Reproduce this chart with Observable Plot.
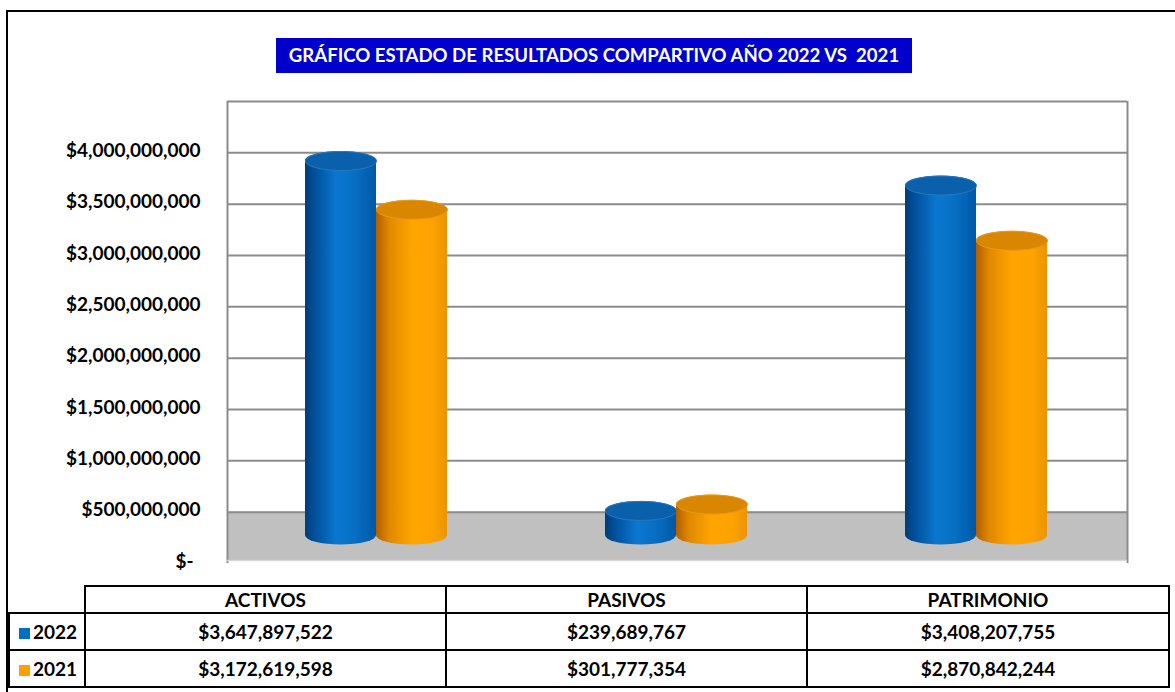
<!DOCTYPE html>
<html>
<head>
<meta charset="utf-8">
<script src="https://cdn.jsdelivr.net/npm/d3@7"></script>
<script src="https://cdn.jsdelivr.net/npm/@observablehq/plot@0.6"></script>
<style>
  html, body { margin: 0; padding: 0; background: #fff; }
  #wrap { position: relative; width: 1175px; height: 692px; overflow: hidden; font-family: Lato, "Liberation Sans", sans-serif; }
  #frame { position: absolute; left: 6px; top: 10px; width: 1180px; height: 700px; border: 2px solid #000; box-sizing: border-box; }
  #chart { position: absolute; left: 0; top: 0; }
  #title { position: absolute; left: 276px; top: 38px; width: 636px; height: 35px; background: #0000cc; color: #fff;
           font-weight: bold; font-size: 18.6px; line-height: 35px; text-align: center; white-space: pre; }
  #tbl { position: absolute; left: 8px; top: 585px; border-collapse: collapse; font-weight: bold; font-size: 19px; color: #000; }
  #tbl td { border: 2px solid #000; text-align: center; padding: 0; }
  #tbl td.empty { border-top: none; border-left: none; }
  #tbl td.leg { text-align: left; padding-left: 9px; }
  .sw { display: inline-block; width: 11px; height: 11px; margin-right: 3px; vertical-align: 0px; }
</style>
</head>
<body>
<div id="wrap">
  <div id="frame"></div>
  <div id="chart"></div>
  <div id="title"></div>
  <table id="tbl"></table>
</div>
<script>
const titleText = "GRÁFICO ESTADO DE RESULTADOS COMPARTIVO AÑO 2022 VS  2021";
const categories = ["ACTIVOS", "PASIVOS", "PATRIMONIO"];
const years = ["2022", "2021"];
const values2022 = [3647897522, 239689767, 3408207755];
const values2021 = [3172619598, 301777354, 2870842244];
const yTicks = [0, 500000000, 1000000000, 1500000000, 2000000000, 2500000000, 3000000000, 3500000000, 4000000000];
const gridTicks = [500000000, 1000000000, 1500000000, 2000000000, 2500000000, 3000000000, 3500000000, 4000000000, 4500000000];
const floorTop = 500000000;

const money = v => v === 0 ? "$-" : "$" + d3.format(",")(v);

const data2022 = categories.map((c, i) => ({cat: c, year: "2022", value: values2022[i]}));
const data2021 = categories.map((c, i) => ({cat: c, year: "2021", value: values2021[i]}));

const RX = 35.5, RY = 9.5, K = 0.5523, DEPTH = -28;
const ellipse = {
  draw(ctx) {
    ctx.moveTo(RX, 0);
    ctx.bezierCurveTo(RX, RY * K, RX * K, RY, 0, RY);
    ctx.bezierCurveTo(-RX * K, RY, -RX, RY * K, -RX, 0);
    ctx.bezierCurveTo(-RX, -RY * K, -RX * K, -RY, 0, -RY);
    ctx.bezierCurveTo(RX * K, -RY, RX, -RY * K, RX, 0);
    ctx.closePath();
  }
};

function cylinder(data, o) {
  return [
    Plot.barY(data, {x: "cat", y1: 0, y2: "value", dy: DEPTH,
      insetLeft: o.il, insetRight: o.ir, insetTop: -RY, insetBottom: -RY,
      rx: RX, ry: RY, fill: o.body}),
    Plot.dot(data, {x: "cat", y: "value", dx: o.dx, dy: DEPTH, symbol: ellipse, r: 5,
      fill: o.top, stroke: o.topStroke, strokeWidth: 1})
  ];
}

const labelStyle = {frameAnchor: "left", textAnchor: "end", dy: -2, fontSize: 19, fontWeight: "bold", fill: "#000"};

const plot = Plot.plot({
  width: 1175, height: 580,
  marginLeft: 227, marginRight: 48, marginTop: 101, marginBottom: 17,
  x: {type: "band", domain: categories, padding: 0, axis: null},
  y: {domain: [0, 4500000000], axis: null},
  style: {background: "transparent", fontFamily: "Lato, 'Liberation Sans', sans-serif", color: "#000"},
  marks: [
    Plot.barY(categories, {x: d => d, y1: 0, y2: () => floorTop, fill: "#c0c0c0", insetBottom: 3}),
    Plot.ruleY(gridTicks, {y: d => d, stroke: "#8c8c8c", strokeWidth: 2}),
    Plot.ruleX([categories[0]], {x: d => d, dx: -150, y1: 0, y2: 4500000000, stroke: "#8c8c8c", strokeWidth: 2}),
    Plot.ruleX([categories[2]], {x: d => d, dx: 150, y1: 0, y2: 4500000000, stroke: "#8c8c8c", strokeWidth: 2}),
    Plot.ruleY([0], {y: d => d, dy: -3, stroke: "#d9d9d9", strokeWidth: 1.5}),
    ...cylinder(data2022, {il: 78, ir: 151, dx: -36.5, body: "url(#gBlue)", top: "#0a60aa", topStroke: "#2a78bf"}),
    ...cylinder(data2021, {il: 149, ir: 80, dx: 34.5, body: "url(#gOrange)", top: "#d98600", topStroke: "#e89a20"}),
    Plot.text(yTicks.filter(d => d !== 0), {y: d => d, text: d => money(d), dx: -27, ...labelStyle}),
    Plot.text(yTicks.filter(d => d === 0), {y: d => d, text: d => money(d), dx: -34, ...labelStyle})
  ]
});

const ns = "http://www.w3.org/2000/svg";
const defs = document.createElementNS(ns, "defs");
function grad(id, stops) {
  const g = document.createElementNS(ns, "linearGradient");
  g.setAttribute("id", id);
  g.setAttribute("x1", "0"); g.setAttribute("x2", "1"); g.setAttribute("y1", "0"); g.setAttribute("y2", "0");
  for (const [off, col] of stops) {
    const s = document.createElementNS(ns, "stop");
    s.setAttribute("offset", off); s.setAttribute("stop-color", col);
    g.appendChild(s);
  }
  defs.appendChild(g);
}
grad("gBlue", [["0", "#003c78"], ["0.15", "#00529e"], ["0.45", "#0a78d0"], ["0.7", "#076fc4"], ["1", "#0058a6"]]);
grad("gOrange", [["0", "#b05e00"], ["0.18", "#e08800"], ["0.5", "#ffa500"], ["0.8", "#fda200"], ["1", "#ec9400"]]);
plot.insertBefore(defs, plot.firstChild);
document.getElementById("chart").appendChild(plot);

document.getElementById("title").textContent = titleText;

const tbl = document.getElementById("tbl");
const colW = [75, 359, 359, 360];
const head = document.createElement("tr");
head.style.height = "27px";
const e = document.createElement("td"); e.className = "empty"; e.style.width = colW[0] + "px"; head.appendChild(e);
categories.forEach((c, i) => { const td = document.createElement("td"); td.textContent = c; td.style.width = colW[i + 1] + "px"; head.appendChild(td); });
tbl.appendChild(head);
const swatch = {"2022": "#0070c0", "2021": "#ffa000"};
[[years[0], values2022, "37px"], [years[1], values2021, "37px"]].forEach(([yr, vals, h]) => {
  const tr = document.createElement("tr"); tr.style.height = h;
  const lg = document.createElement("td"); lg.className = "leg";
  const sw = document.createElement("span"); sw.className = "sw"; sw.style.background = swatch[yr];
  lg.appendChild(sw); lg.appendChild(document.createTextNode(yr)); tr.appendChild(lg);
  vals.forEach(v => { const td = document.createElement("td"); td.textContent = money(v); tr.appendChild(td); });
  tbl.appendChild(tr);
});
</script>
</body>
</html>
